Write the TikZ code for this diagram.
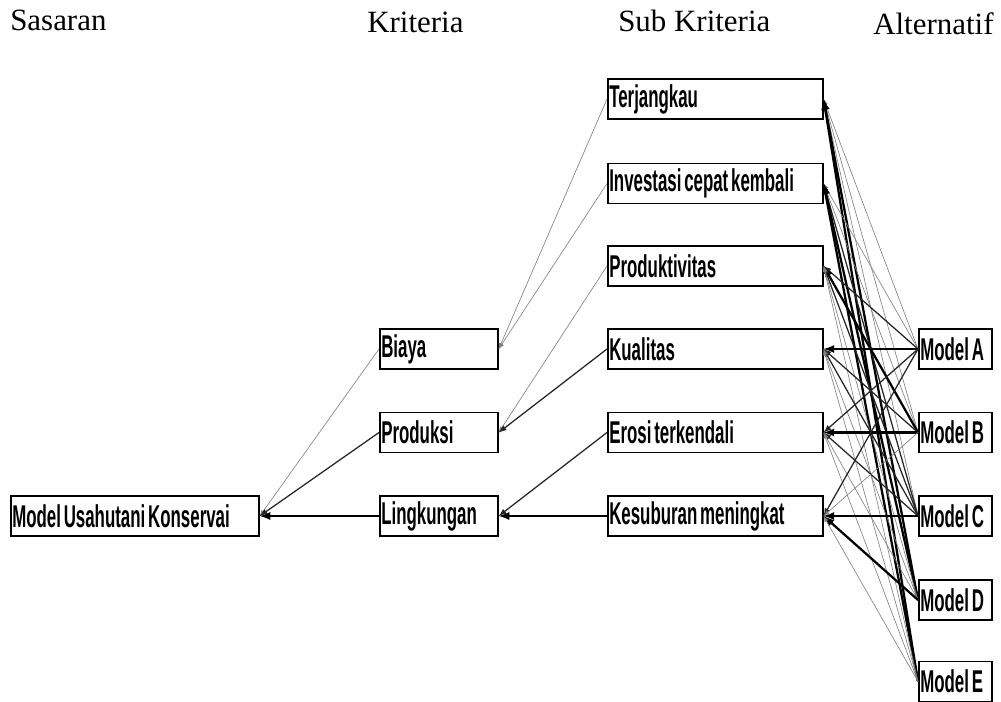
\documentclass[tikz,border=0pt]{standalone}
\usepackage{fontspec}
\setmainfont{Liberation Serif}
\newfontfamily\scatolafont{Liberation Sans}
\usepackage{graphicx}
\usetikzlibrary{arrows.meta}
\newcommand{\etichetta}[1]{{\scatolafont\bfseries\fontsize{20}{20}\selectfont\scalebox{0.6}[1.12]{#1}}}

\begin{document}
\begin{tikzpicture}[x = 0.025cm, y = -0.025cm,
    sottile/.style = {line width = 0.45pt, gray},
    medio/.style = {line width = 0.9pt, black!85},
    spesso/.style = {line width = 1.6pt, black},
    casella/.style = {draw, line width = 1.2pt, anchor = west, inner xsep = 1pt, inner ysep = 0pt, minimum height = 1cm, text width = #1, align = left},
    titolo/.style = {anchor = base west, inner sep = 0pt, font = \fontsize{22}{22}\selectfont}]
    % Bordo
    \useasboundingbox (0,0) rectangle (1001,702);
    % Titoli
    \node[titolo] (tsas) at (10,31) {Sasaran};
    \node[titolo] (tkri) at (367,33) {Kriteria};
    \node[titolo] (tsub) at (618,32) {Sub Kriteria};
    \node[titolo] (talt) at (873,35) {Alternatif};
    % Sasaran
    \node[casella = 6.13cm] (goal) at (10,516) {\etichetta{Model Usahutani Konservai}};
    % Kriteria
    \node[casella = 2.88cm] (biaya) at (379,349) {\etichetta{Biaya}};
    \node[casella = 2.88cm] (prod) at (379,432.5) {\etichetta{Produksi}};
    \node[casella = 2.88cm] (ling) at (379,516) {\etichetta{Lingkungan}};
    % Sub kriteria
    \node[casella = 5.3cm] (terj) at (607,99) {\etichetta{Terjangkau}};
    \node[casella = 5.3cm] (inv) at (607,183.5) {\etichetta{Investasi cepat kembali}};
    \node[casella = 5.3cm] (prodt) at (607,266) {\etichetta{Produktivitas}};
    \node[casella = 5.3cm] (kual) at (607,349) {\etichetta{Kualitas}};
    \node[casella = 5.3cm] (eros) at (607,432.5) {\etichetta{Erosi terkendali}};
    \node[casella = 5.3cm] (kesu) at (607,516) {\etichetta{Kesuburan meningkat}};
    % Alternatif
    \node[casella = 1.75cm] (modA) at (918,349) {\etichetta{Model A}};
    \node[casella = 1.75cm] (modB) at (918,432.5) {\etichetta{Model B}};
    \node[casella = 1.75cm] (modC) at (918,516) {\etichetta{Model C}};
    \node[casella = 1.75cm] (modD) at (918,600) {\etichetta{Model D}};
    \node[casella = 1.75cm] (modE) at (918,681.5) {\etichetta{Model E}};
    % Kriteria -> sasaran
    \draw[sottile, -latex] (biaya.west) -- (goal.east);
    \draw[medio, -latex] (prod.west) -- (goal.east);
    \draw[spesso, -latex] (ling.west) -- (goal.east);
    % Sub kriteria -> kriteria
    \draw[sottile, -latex] (terj.west) -- (biaya.east);
    \draw[sottile, -latex] (inv.west) -- (biaya.east);
    \draw[sottile, -latex] (prodt.west) -- (prod.east);
    \draw[medio, -latex] (kual.west) -- (prod.east);
    \draw[medio, -latex] (eros.west) -- (ling.east);
    \draw[spesso, -latex] (kesu.west) -- (ling.east);
    % Alternatif -> sub kriteria
    \foreach \s/\wa/\wb/\wc/\wd/\we in {terj/sottile/sottile/sottile/spesso/spesso,
        inv/sottile/sottile/medio/spesso/spesso,
        prodt/medio/spesso/medio/sottile/sottile,
        kual/spesso/medio/medio/sottile/sottile,
        eros/medio/spesso/medio/sottile/sottile,
        kesu/medio/sottile/spesso/spesso/sottile}{
        \draw[\wa, -latex] (modA.west) -- (\s.east);
        \draw[\wb, -latex] (modB.west) -- (\s.east);
        \draw[\wc, -latex] (modC.west) -- (\s.east);
        \draw[\wd, -latex] (modD.west) -- (\s.east);
        \draw[\we, -latex] (modE.west) -- (\s.east);
    }
\end{tikzpicture}
\end{document}
